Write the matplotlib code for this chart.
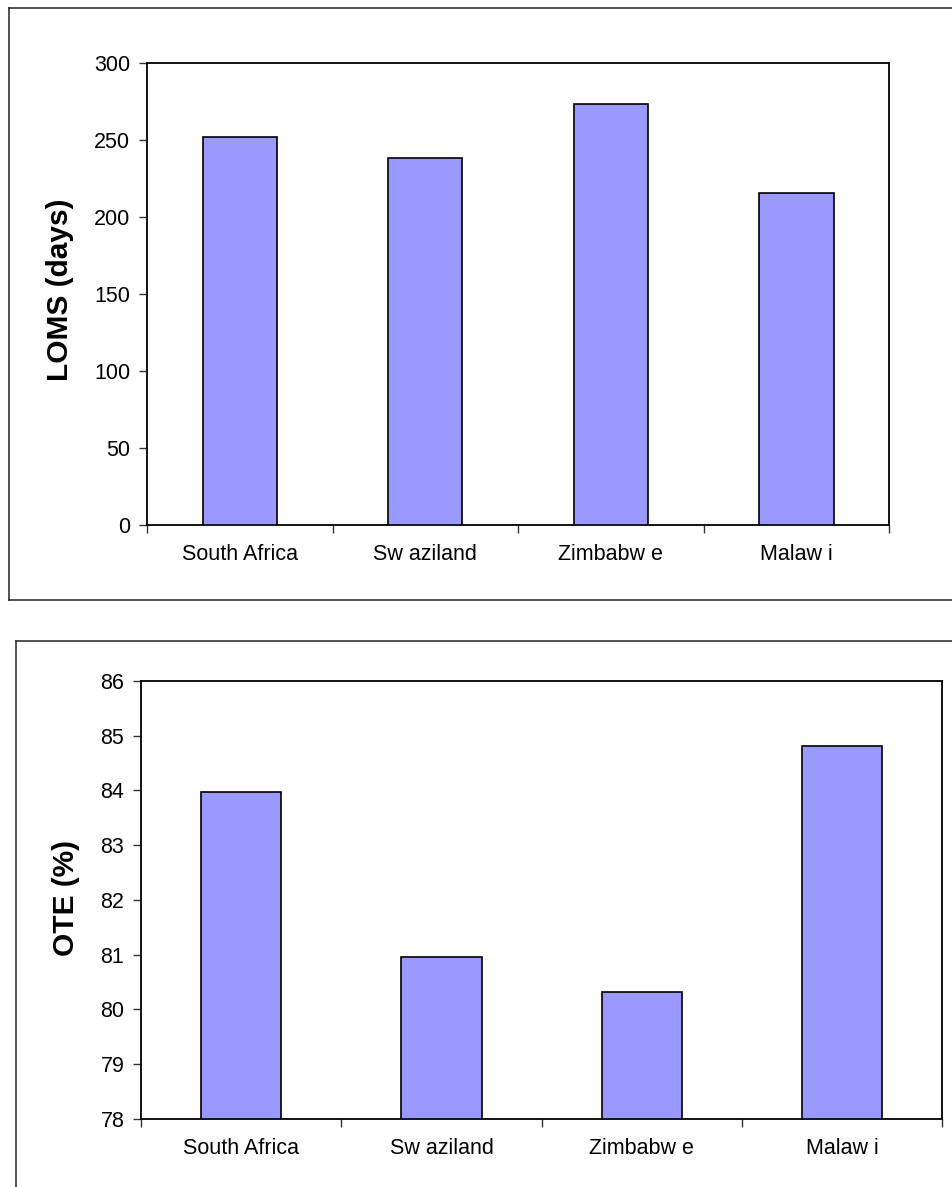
import matplotlib
matplotlib.use("Agg")
import matplotlib.pyplot as plt
from matplotlib.lines import Line2D

plt.rcParams['font.family'] = ['Liberation Sans', 'DejaVu Sans']

categories = ["South Africa", "Sw aziland", "Zimbabw e", "Malaw i"]
loms_days = [251.5, 238, 273.5, 215.5]
ote_pct = [83.97, 80.95, 80.32, 84.82]

W, H = 953, 1187
fig = plt.figure(figsize=(W / 100, H / 100), dpi=100)


def fx(px):
    return px / W


def fy(py):
    return 1 - py / H


def add_axes_px(left, top, right, bottom):
    return fig.add_axes([fx(left), fy(bottom), fx(right) - fx(left), fy(top) - fy(bottom)])


def outer_line(xs, ys):
    fig.add_artist(Line2D([fx(x) for x in xs], [fy(y) for y in ys],
                          color="#222222", lw=1.1, clip_on=False))


# outer chart-area borders
outer_line([9, 9], [8, 600])
outer_line([9, W], [8, 8])
outer_line([9, W], [600, 600])
outer_line([16, 16], [641, H])
outer_line([16, W], [641, 641])

bar_color = "#9999FF"


def style_axes(ax, values, ylim, yticks, ylabel, label_x, label_y):
    x = list(range(len(categories)))
    ax.bar(x, [v - ylim[0] for v in values], bottom=ylim[0], width=0.4,
           color=bar_color, edgecolor="black", linewidth=1.2, zorder=3)
    ax.set_xlim(-0.5, len(categories) - 0.5)
    ax.set_ylim(*ylim)
    ax.set_yticks(yticks)
    ax.set_yticklabels([str(t) for t in yticks])
    ax.set_xticks([i - 0.5 for i in range(len(categories) + 1)])
    ax.set_xticklabels([])
    ax.set_xticks(x, minor=True)
    ax.set_xticklabels(categories, minor=True)
    ax.tick_params(axis="x", which="major", length=6, width=1, color="#333333", direction="out")
    ax.tick_params(axis="x", which="minor", length=0, pad=14, labelsize=15.5)
    ax.tick_params(axis="y", length=6, width=1, color="#333333", direction="out",
                   pad=6, labelsize=15.5)
    for s in ax.spines.values():
        s.set_linewidth(1.3)
        s.set_color("black")
    fig.text(fx(label_x), fy(label_y), ylabel, rotation=90, ha="center", va="center",
             fontsize=21.5, fontweight="bold")


ax1 = add_axes_px(147, 62.7, 889.3, 524.7)
style_axes(ax1, loms_days, (0, 300), [0, 50, 100, 150, 200, 250, 300],
           "LOMS (days)", 60, 290)

ax2 = add_axes_px(141, 681, 942.3, 1118.7)
style_axes(ax2, ote_pct, (78, 86), [78, 79, 80, 81, 82, 83, 84, 85, 86],
           "OTE (%)", 66, 898)

fig.savefig("out.png", dpi=100)
